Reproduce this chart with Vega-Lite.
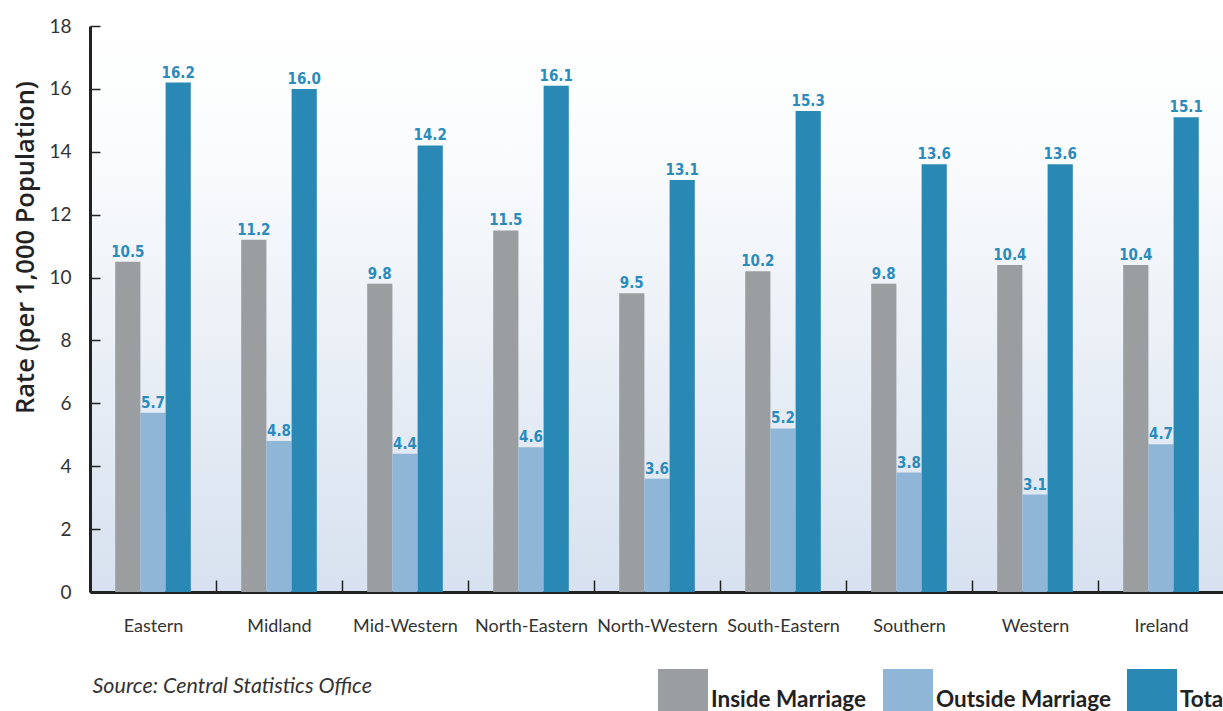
{
  "$schema": "https://vega.github.io/schema/vega-lite/v6.json",
  "width": 1134,
  "height": 566,
  "autosize": {"type": "none"},
  "padding": {"left": 90, "top": 26, "right": 0, "bottom": 119},
  "background": "white",
  "config": {
    "font": "Lato",
    "view": {
      "stroke": null,
      "fill": {
        "gradient": "linear", "x1": 0, "y1": 0, "x2": 0, "y2": 1,
        "stops": [
          {"offset": 0, "color": "#ffffff"},
          {"offset": 0.2, "color": "#fbfcfd"},
          {"offset": 1, "color": "#d7e1ef"}
        ]
      }
    }
  },
  "data": {
    "values": [
      {"region": "Eastern", "series": "Inside Marriage", "rate": 10.5},
      {"region": "Eastern", "series": "Outside Marriage", "rate": 5.7},
      {"region": "Eastern", "series": "Total", "rate": 16.2},
      {"region": "Midland", "series": "Inside Marriage", "rate": 11.2},
      {"region": "Midland", "series": "Outside Marriage", "rate": 4.8},
      {"region": "Midland", "series": "Total", "rate": 16.0},
      {"region": "Mid-Western", "series": "Inside Marriage", "rate": 9.8},
      {"region": "Mid-Western", "series": "Outside Marriage", "rate": 4.4},
      {"region": "Mid-Western", "series": "Total", "rate": 14.2},
      {"region": "North-Eastern", "series": "Inside Marriage", "rate": 11.5},
      {"region": "North-Eastern", "series": "Outside Marriage", "rate": 4.6},
      {"region": "North-Eastern", "series": "Total", "rate": 16.1},
      {"region": "North-Western", "series": "Inside Marriage", "rate": 9.5},
      {"region": "North-Western", "series": "Outside Marriage", "rate": 3.6},
      {"region": "North-Western", "series": "Total", "rate": 13.1},
      {"region": "South-Eastern", "series": "Inside Marriage", "rate": 10.2},
      {"region": "South-Eastern", "series": "Outside Marriage", "rate": 5.2},
      {"region": "South-Eastern", "series": "Total", "rate": 15.3},
      {"region": "Southern", "series": "Inside Marriage", "rate": 9.8},
      {"region": "Southern", "series": "Outside Marriage", "rate": 3.8},
      {"region": "Southern", "series": "Total", "rate": 13.6},
      {"region": "Western", "series": "Inside Marriage", "rate": 10.4},
      {"region": "Western", "series": "Outside Marriage", "rate": 3.1},
      {"region": "Western", "series": "Total", "rate": 13.6},
      {"region": "Ireland", "series": "Inside Marriage", "rate": 10.4},
      {"region": "Ireland", "series": "Outside Marriage", "rate": 4.7},
      {"region": "Ireland", "series": "Total", "rate": 15.1}
    ]
  },
  "encoding": {
    "x": {
      "field": "region", "type": "nominal", "sort": null,
      "scale": {"paddingInner": 0, "paddingOuter": 0},
      "axis": {
        "title": "Source: Central Statistics Office",
        "titleFont": "Lato",
        "titleFontStyle": "italic",
        "titleFontWeight": "normal",
        "titleFontSize": 21.5,
        "titleColor": "#333333",
        "titleAlign": "left",
        "titleAnchor": "start",
        "titleBaseline": "alphabetic",
        "titleX": 2,
        "titleY": 100,
        "labelAngle": 0,
        "labelFontSize": 18,
        "labelColor": "#333333",
        "labelPadding": 37,
        "labelBaseline": "top",
        "tickBand": "extent",
        "tickSize": -12,
        "tickWidth": 1.5,
        "tickColor": "#222222",
        "domainWidth": 3,
        "domainColor": "#222222",
        "grid": false
      }
    },
    "xOffset": {
      "field": "series", "type": "nominal",
      "sort": ["Inside Marriage", "Outside Marriage", "Total"],
      "scale": {"paddingInner": 0, "paddingOuter": 1.16}
    },
    "y": {
      "field": "rate", "type": "quantitative",
      "scale": {"domain": [0, 18], "nice": false},
      "axis": {
        "title": "Rate (per 1,000 Population)",
        "values": [0, 2, 4, 6, 8, 10, 12, 14, 16, 18],
        "grid": false,
        "domainWidth": 3,
        "domainColor": "#222222",
        "tickColor": "#222222",
        "tickWidth": 1.5,
        "tickSize": -10,
        "labelFontSize": 19,
        "labelColor": "#333333",
        "labelPadding": 29,
        "titleFont": "Open Sans",
        "titleFontSize": 25.5,
        "titleFontWeight": 600,
        "titleColor": "#222222",
        "titleAngle": -90,
        "titleAlign": "center",
        "titleBaseline": "alphabetic",
        "titleX": -57,
        "titleY": 221
      }
    }
  },
  "layer": [
    {
      "mark": {"type": "bar"},
      "encoding": {
        "color": {
          "field": "series", "type": "nominal",
          "scale": {
            "domain": ["Inside Marriage", "Outside Marriage", "Total"],
            "range": ["#9a9ea1", "#8fb6d6", "#2a88b4"]
          },
          "legend": {
            "orient": "none",
            "legendX": 568,
            "legendY": 643,
            "direction": "horizontal",
            "title": null,
            "symbolType": "square",
            "symbolSize": 2500,
            "symbolStrokeWidth": 0,
            "symbolOpacity": 1,
            "labelFontSize": 22.5,
            "labelFontWeight": "bold",
            "labelColor": "#222222",
            "labelOffset": 3,
            "columnPadding": 16,
            "labelLimit": 400,
            "encode": {"labels": {"update": {"dy": {"value": 6}}}}
          }
        }
      }
    },
    {
      "mark": {
        "type": "text", "baseline": "bottom", "dy": -2,
        "fontWeight": "bold", "fontSize": 15, "color": "#2a8bbd",
        "font": "Liberation Sans Narrow, DejaVu Sans Condensed, sans-serif"
      },
      "encoding": {
        "text": {"field": "rate", "type": "quantitative", "format": ".1f"}
      }
    }
  ]
}
